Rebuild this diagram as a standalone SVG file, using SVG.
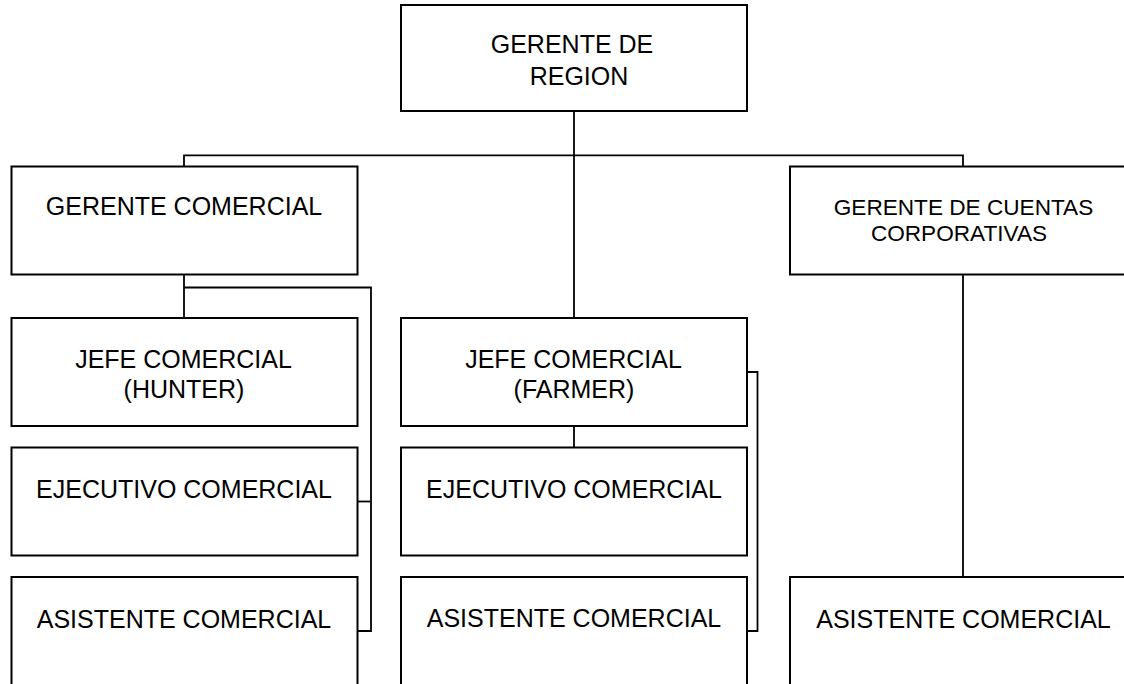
<svg xmlns="http://www.w3.org/2000/svg" width="1124" height="684" viewBox="0 0 1124 684">
<style>
.box{fill:#fff;stroke:#000;stroke-width:2}
.t{font-family:"Liberation Sans",Arial,sans-serif;font-size:25px;fill:#000;text-anchor:middle}
.s{font-size:22.6px}
.c{fill:none;stroke:#000;stroke-width:1.8}
</style>
<rect width="1124" height="684" fill="#fff"/>
<g id="connectors">
<path class="c" d="M574,111 V318"/>
<path class="c" d="M184,166.5 V155.3 H963 V166.5"/>
<path class="c" d="M184,274.5 V318"/>
<path class="c" d="M184,287.5 H371 V631 H357.5"/>
<path class="c" d="M357.5,501.5 H371"/>
<path class="c" d="M574,426 V447.5"/>
<path class="c" d="M747,372 H757.5 V631 H747"/>
<path class="c" d="M963,274.5 V577"/>
</g>
<g id="n-region">
<rect class="box" x="401" y="5" width="346" height="106"/>
<text class="t" x="572" y="52.7">GERENTE DE</text>
<text class="t" x="579" y="85">REGION</text>
</g>
<g id="n-gcomercial">
<rect class="box" x="11.5" y="166.5" width="346" height="108"/>
<text class="t" x="184" y="215">GERENTE COMERCIAL</text>
</g>
<g id="n-gcuentas">
<rect class="box" x="790" y="166.5" width="347" height="108"/>
<text class="t s" x="963.5" y="215">GERENTE DE CUENTAS</text>
<text class="t s" x="959" y="241">CORPORATIVAS</text>
</g>
<g id="n-hunter">
<rect class="box" x="11.5" y="318" width="346" height="108"/>
<text class="t" x="183.5" y="367.7">JEFE COMERCIAL</text>
<text class="t" x="184" y="397.5">(HUNTER)</text>
</g>
<g id="n-ejec1">
<rect class="box" x="11.5" y="447.5" width="346" height="108"/>
<text class="t" x="184" y="497.7">EJECUTIVO COMERCIAL</text>
</g>
<g id="n-asis1">
<rect class="box" x="11.5" y="577" width="346" height="110"/>
<text class="t" x="184" y="627.7">ASISTENTE COMERCIAL</text>
</g>
<g id="n-farmer">
<rect class="box" x="401" y="318" width="346" height="108"/>
<text class="t" x="573.5" y="367.7">JEFE COMERCIAL</text>
<text class="t" x="574" y="397.7">(FARMER)</text>
</g>
<g id="n-ejec2">
<rect class="box" x="401" y="447.5" width="346" height="108"/>
<text class="t" x="574" y="497.7">EJECUTIVO COMERCIAL</text>
</g>
<g id="n-asis2">
<rect class="box" x="401" y="577" width="346" height="110"/>
<text class="t" x="574" y="627.2">ASISTENTE COMERCIAL</text>
</g>
<g id="n-asis3">
<rect class="box" x="790" y="577" width="347" height="110"/>
<text class="t" x="963.5" y="627.7">ASISTENTE COMERCIAL</text>
</g>
</svg>
